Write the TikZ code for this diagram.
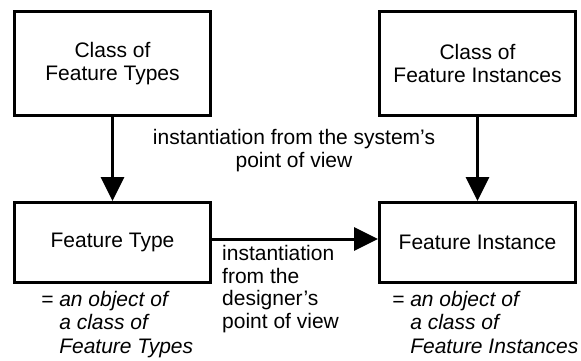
\documentclass[tikz,border=0pt]{standalone}
\usepackage{fontspec}
\setmainfont{Liberation Sans}
\usetikzlibrary{arrows.meta}
\begin{document}
\fontsize{21}{22.5}\selectfont
\begin{tikzpicture}[x=1pt, y=-1pt, inner sep=0pt,
		boxstyle/.style={draw, line width=3pt, minimum width=196pt, align=center},
		arrowstyle/.style={line width=3pt, -{Triangle[length=24pt, width=23pt]}},
		notestyle/.style={anchor=base west, align=left, font=\fontsize{21}{23.5}\selectfont\itshape}]
	\useasboundingbox (0,0) rectangle (581,360);

	\node [boxstyle, minimum height=104pt] (cft) at (112.5,63.5) {Class of\\Feature Types};
	\node [boxstyle, minimum height=104pt] (cfi) at (477.5,63.5) {Class of\\Feature Instances};
	\node [boxstyle, minimum height=80pt] (ft) at (112.5,242.5) {Feature Type};
	\node [boxstyle, minimum height=80pt] (fi) at (477.5,242.5) {Feature Instance};

	\draw [arrowstyle] (cft) -- (ft);
	\draw [arrowstyle] (cfi) -- (fi);
	\draw [arrowstyle] ([yshift=3.5pt]ft.east) -- ([yshift=3.5pt]fi.west);

	% base anchor of a multi-line node sits on its last line
	\node [anchor=base, align=center] (sys) at (294,167) {instantiation from the system’s\\point of view};
	\node [anchor=base west, align=left] (des) at (222,328) {instantiation\\from the\\designer’s\\point of view};

	\node [notestyle] (ftnote) at (41,353) {= an object of\\\hphantom{= }a class of\\\hphantom{= }Feature Types};
	\node [notestyle] (finote) at (392,353) {= an object of\\\hphantom{= }a class of\\\hphantom{= }Feature Instances};
\end{tikzpicture}
\end{document}
